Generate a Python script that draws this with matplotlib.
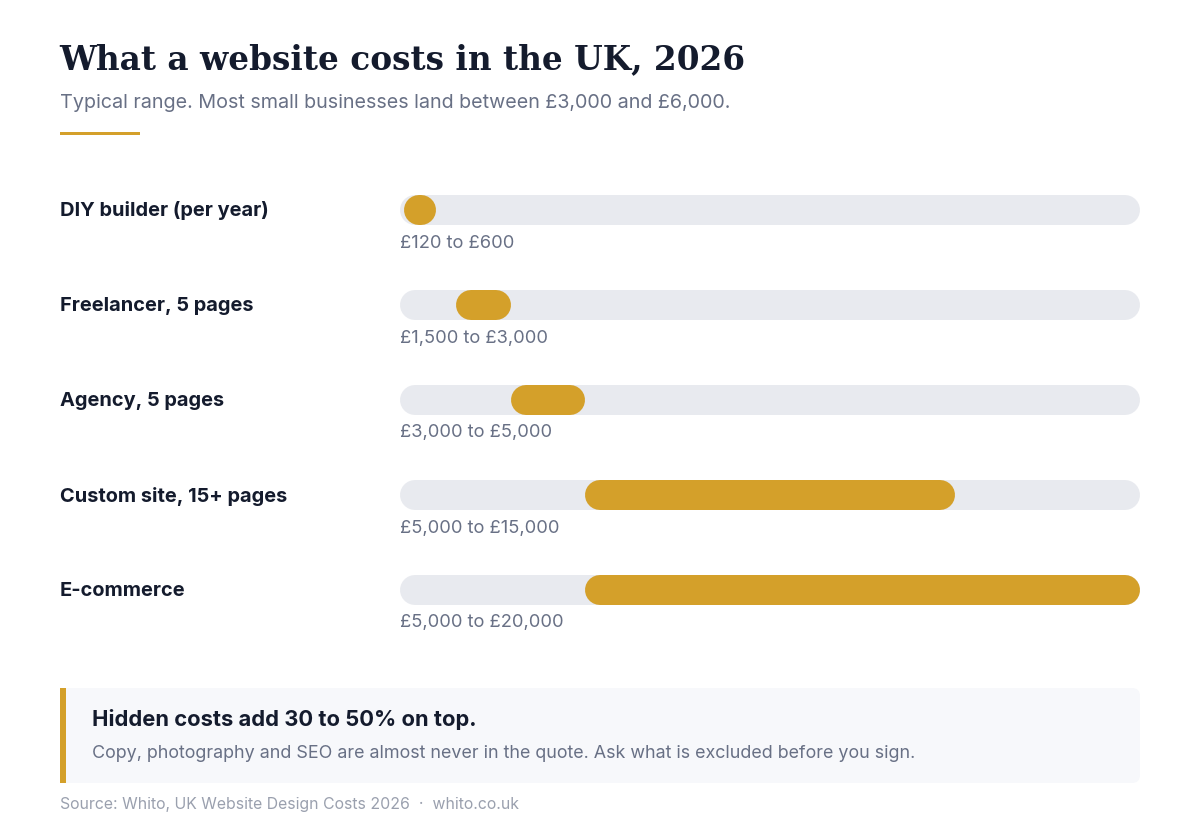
import matplotlib
matplotlib.use("Agg")
import matplotlib.pyplot as plt
from matplotlib.patches import FancyBboxPatch, Rectangle

# ---- data ----
categories = ["DIY builder (per year)", "Freelancer, 5 pages", "Agency, 5 pages",
              "Custom site, 15+ pages", "E-commerce"]
low_values = [120, 1500, 3000, 5000, 5000]
high_values = [600, 3000, 5000, 15000, 20000]
range_labels = ["£120 to £600", "£1,500 to £3,000", "£3,000 to £5,000",
                "£5,000 to £15,000", "£5,000 to £20,000"]
scale_max = 20000

title = "What a website costs in the UK, 2026"
subtitle = "Typical range. Most small businesses land between £3,000 and £6,000."
callout_head = "Hidden costs add 30 to 50% on top."
callout_body = "Copy, photography and SEO are almost never in the quote. Ask what is excluded before you sign."
source = "Source: Whito, UK Website Design Costs 2026  ·  whito.co.uk"

# ---- style ----
GOLD = "#D4A02A"
TRACK = "#E8EAEF"
DARK = "#141B2D"
GRAY = "#687085"
LIGHT = "#9AA0AE"
SANS = ["Inter", "DejaVu Sans"]
SERIF = ["DejaVu Serif"]

W, H = 1200, 840
DPI = 100
fig = plt.figure(figsize=(W / DPI, H / DPI), dpi=DPI)
fig.patch.set_facecolor("white")

# overlay axes in pixel coordinates
ax = fig.add_axes([0, 0, 1, 1])
ax.set_xlim(0, W)
ax.set_ylim(H, 0)
ax.axis("off")

# bar axes: x in pounds, y in pixels
x0_px, x1_px = 400, 1140
bx = fig.add_axes([x0_px / W, 0, (x1_px - x0_px) / W, 1])
bx.set_xlim(0, scale_max)
bx.set_ylim(H, 0)
bx.axis("off")

units_per_px = scale_max / (x1_px - x0_px)
bar_h = 30
lw_pt = bar_h * 72 / DPI
cap = bar_h / 2 * units_per_px
row0, row_gap = 210, 95

def pill(left, right, yc, color, z):
    a = left + cap
    b = right - cap
    bx.plot([a, b], [yc, yc], color=color, lw=lw_pt, solid_capstyle="round",
            zorder=z)

min_w = 32 * units_per_px
for i, (cat, lo, hi, lab) in enumerate(zip(categories, low_values, high_values, range_labels)):
    yc = row0 + i * row_gap
    pill(0, scale_max, yc, TRACK, 1)
    pill(lo, max(hi, lo + min_w), yc, GOLD, 2)
    ax.text(60, yc + 1, cat, fontsize=14.4, fontweight="bold", color=DARK,
            family=SANS, va="center", ha="left")
    ax.text(400, yc + 33, lab, fontsize=13.2, color=GRAY, family=SANS,
            va="center", ha="left")

# title block
ax.text(59, 60, title, fontsize=23.6, fontweight="bold", color=DARK,
        family=SERIF, va="center", ha="left")
ax.text(60, 103, subtitle, fontsize=14.2, color=GRAY, family=SANS,
        va="center", ha="left")
ax.add_patch(Rectangle((60, 131.5), 80, 3.5, facecolor=GOLD, edgecolor="none"))

# callout
box = FancyBboxPatch((60, 688), 1080, 95, boxstyle="round,pad=0,rounding_size=8",
                     facecolor="#F7F8FB", edgecolor="none", zorder=1)
ax.add_patch(box)
ax.add_patch(Rectangle((60, 688), 6, 95, facecolor=GOLD, edgecolor="none", zorder=2))
ax.text(92, 719, callout_head, fontsize=15.8, fontweight="bold", color=DARK,
        family=SANS, va="center", ha="left")
ax.text(92, 753, callout_body, fontsize=12.9, color=GRAY, family=SANS,
        va="center", ha="left")

ax.text(60, 804, source, fontsize=11.4, color=LIGHT, family=SANS,
        va="center", ha="left")

fig.savefig("out.png", dpi=DPI, facecolor="white")
